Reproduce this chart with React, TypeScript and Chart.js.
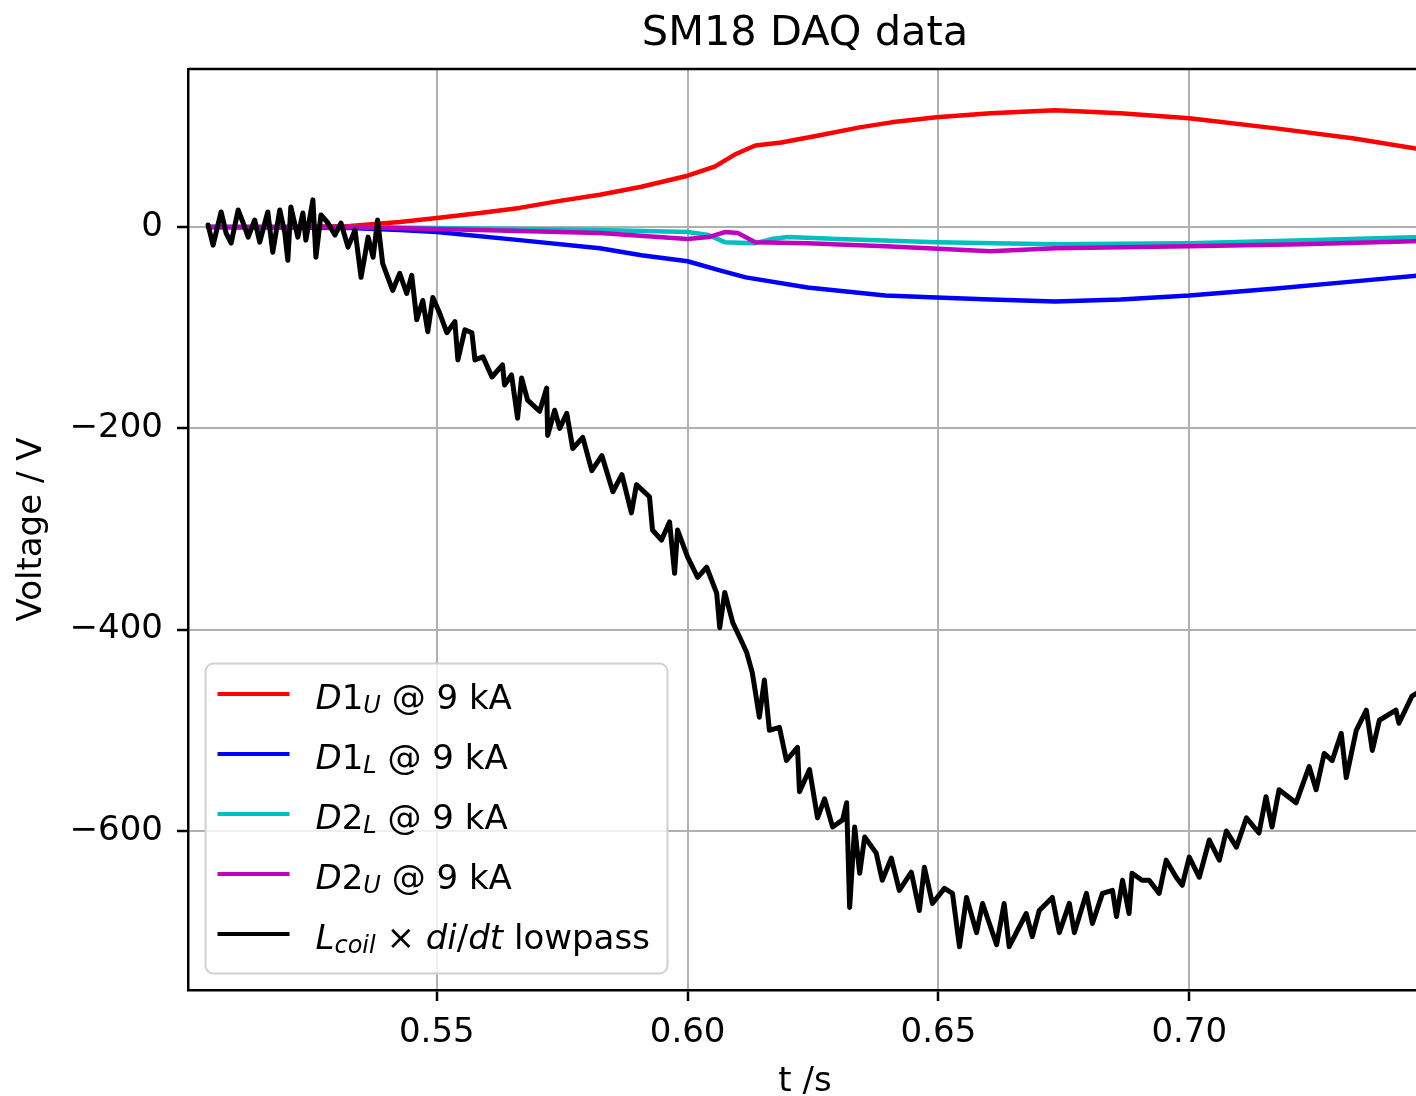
import React, { useEffect, useRef } from "react";
import { Chart, registerables } from "chart.js";

Chart.register(...registerables);

// ---------- text ----------
const CHART_TITLE = "SM18 DAQ data";
const X_LABEL = "t /s";
const Y_LABEL = "Voltage / V";

// ---------- axes ----------
const X_TICKS = [0.55, 0.6, 0.65, 0.7];
const Y_TICKS = [-600, -400, -200, 0];
const X_MIN = 0.5004;
const X_MAX = 0.7464;
const Y_MIN = -758;
const Y_MAX = 157;

// ---------- series: D1_U (red) ----------
const d1uT = [0.5044, 0.52, 0.5327, 0.5426, 0.55, 0.5586, 0.5665, 0.5745, 0.5825, 0.5908, 0.6, 0.6054, 0.6094, 0.6135, 0.6187, 0.6261, 0.6343, 0.6406, 0.6496, 0.6604, 0.6733, 0.6863, 0.7, 0.7173, 0.7329, 0.7464];
const d1uV = [0, 0, 1, 5, 9, 14, 19, 26, 32, 40, 51, 60, 72, 81, 84, 91, 99, 104, 109, 113, 116, 113, 108, 98, 88, 77];

// ---------- series: D1_L (blue) ----------
const d1lT = [0.5044, 0.5327, 0.5426, 0.55, 0.5665, 0.5825, 0.5908, 0.6, 0.6064, 0.6116, 0.6239, 0.6394, 0.6496, 0.6604, 0.6733, 0.6863, 0.7, 0.7173, 0.7329, 0.7464];
const d1lV = [0, -1, -3, -5, -13, -21, -28, -34, -43, -50, -60, -68, -70, -72, -74, -72, -68, -61, -54, -48];

// ---------- series: D2_L (cyan) ----------
const d2lT = [0.5044, 0.5327, 0.55, 0.5825, 0.6, 0.6042, 0.6074, 0.6135, 0.6167, 0.62, 0.63, 0.6496, 0.6733, 0.7, 0.725, 0.7464];
const d2lV = [0, 0, -1, -3, -5, -8, -15, -16, -12, -10, -12, -15, -17, -16, -13, -10];

// ---------- series: D2_U (magenta) ----------
const d2uT = [0.5044, 0.5327, 0.55, 0.5665, 0.5825, 0.6, 0.6042, 0.6074, 0.61, 0.6135, 0.6239, 0.6394, 0.6604, 0.6733, 0.7, 0.7225, 0.7464];
const d2uV = [0, 0, -2, -4, -6, -12, -10, -5, -6, -15, -16, -19, -24, -21, -19, -17, -14];

// ---------- series: L_coil x di/dt lowpass (black) ----------
const coilT = [
  0.5044, 0.5054, 0.507, 0.508, 0.509, 0.5104, 0.5114, 0.5124, 0.5137, 0.5147,
  0.5163, 0.5173, 0.5187, 0.5197, 0.5203, 0.5209, 0.5223, 0.5233, 0.5239, 0.5253,
  0.5259, 0.5269, 0.5283, 0.5297, 0.5309, 0.5323, 0.5337, 0.5349, 0.5363, 0.5373,
  0.5382, 0.5392, 0.5412, 0.5426, 0.544, 0.545, 0.546, 0.5472, 0.5482, 0.5492,
  0.5506, 0.552, 0.5536, 0.5542, 0.5556, 0.557, 0.5576, 0.5592, 0.561, 0.5631,
  0.5635, 0.5649, 0.5661, 0.5669, 0.5681, 0.5705, 0.5719, 0.5721, 0.5735, 0.5745,
  0.5759, 0.5771, 0.5791, 0.5809, 0.5829, 0.5851, 0.5869, 0.5888, 0.5898, 0.5924,
  0.593, 0.5948, 0.5964, 0.5974, 0.598, 0.6, 0.602, 0.6038, 0.6058, 0.6064,
  0.6074, 0.609, 0.6108,
  0.6118, 0.6129, 0.6143, 0.6153, 0.6163, 0.6183, 0.6197, 0.6219, 0.6223, 0.6243,
  0.6259, 0.6273, 0.6289, 0.6309, 0.6317, 0.6323, 0.6333, 0.6343, 0.6353, 0.6376,
  0.6388, 0.6406, 0.6422, 0.6446, 0.6462, 0.6472, 0.6488, 0.6512, 0.6528, 0.6542,
  0.6556, 0.6576, 0.6588, 0.6616, 0.6631, 0.6641, 0.6675, 0.6687, 0.6701, 0.6727,
  0.6741, 0.6761, 0.6771, 0.6795, 0.6807, 0.6827, 0.6847, 0.6855, 0.6867, 0.688,
  0.6886, 0.6906, 0.692, 0.694, 0.6954, 0.6974, 0.6986, 0.7, 0.702, 0.704,
  0.706, 0.7074, 0.7094, 0.7114, 0.7139, 0.7153, 0.7165, 0.7179, 0.7213, 0.7239,
  0.7253, 0.7269, 0.7285, 0.7303, 0.7313, 0.7333, 0.7353, 0.7365, 0.7379, 0.7412,
  0.7418, 0.7444, 0.7464,
];
const coilV = [
  2, -18, 15, -6, -16, 17, 4, -10, 7, -15,
  15, -25, 17, -6, -33, 20, -10, 14, -13, 27,
  -30, 12, 4, -8, 4, -20, -3, -50, -10, -30,
  7, -36, -63, -46, -66, -48, -92, -73, -104, -70,
  -86, -105, -94, -132, -102, -105, -132, -129, -149, -137,
  -157, -147, -190, -150, -172, -183, -160, -207, -182, -200,
  -185, -220, -209, -242, -227, -263, -246, -284, -256, -268,
  -301, -311, -293, -344, -301, -328, -348, -338, -364, -398,
  -363, -393, -412,
  -423, -443, -487, -450, -500, -497, -530, -517, -561, -539,
  -587, -568, -596, -589, -572, -676, -596, -642, -606, -622,
  -649, -627, -659, -641, -679, -636, -672, -657, -662, -715,
  -666, -701, -672, -713, -672, -715, -682, -705, -679, -666,
  -701, -672, -701, -662, -692, -662, -659, -685, -649, -682,
  -642, -649, -649, -662, -629, -646, -654, -626, -646, -609,
  -629, -600, -616, -587, -602, -566, -596, -559, -572, -536,
  -559, -523, -530, -503, -547, -500, -480, -520, -490, -480,
  -493, -466, -460,
];

// ---------- legend ----------
const SERIES_COLORS = ["#ff0000", "#0000ff", "#00bfbf", "#bf00bf", "#000000"];
type Seg = { t: string; i?: boolean; s?: boolean };
const LEGEND_LABELS: Seg[][] = [
  [{ t: "D", i: true }, { t: "1" }, { t: "U", i: true, s: true }, { t: " @ 9 kA" }],
  [{ t: "D", i: true }, { t: "1" }, { t: "L", i: true, s: true }, { t: " @ 9 kA" }],
  [{ t: "D", i: true }, { t: "2" }, { t: "L", i: true, s: true }, { t: " @ 9 kA" }],
  [{ t: "D", i: true }, { t: "2" }, { t: "U", i: true, s: true }, { t: " @ 9 kA" }],
  [
    { t: "L", i: true },
    { t: "coil", i: true, s: true },
    { t: " \u00d7 " },
    { t: "di", i: true },
    { t: "/" },
    { t: "dt", i: true },
    { t: " lowpass" },
  ],
];

const FONT = '"DejaVu Sans", "Liberation Sans", sans-serif';

const zip = (t: number[], v: number[]) => t.map((x, k) => ({ x, y: v[k] }));

const framePlugin = {
  id: "mplFrame",
  afterDraw(chart: any) {
    const { ctx, chartArea: a } = chart;
    ctx.save();
    // top and right spines
    ctx.strokeStyle = "#000";
    ctx.lineWidth = 2.5;
    ctx.beginPath();
    ctx.moveTo(a.left, a.top);
    ctx.lineTo(a.right, a.top);
    ctx.lineTo(a.right, a.bottom);
    ctx.stroke();

    // title
    ctx.fillStyle = "#000";
    ctx.font = `41.5px ${FONT}`;
    ctx.textAlign = "center";
    ctx.textBaseline = "alphabetic";
    ctx.fillText(CHART_TITLE, (a.left + a.right) / 2, a.top - 24);

    // legend box
    const bx = a.left + 17.5;
    const by = a.bottom - 326.5;
    const bw = 462;
    const bh = 310;
    ctx.beginPath();
    (ctx as any).roundRect(bx, by, bw, bh, 8);
    ctx.fillStyle = "rgba(255,255,255,0.8)";
    ctx.fill();
    ctx.strokeStyle = "#d0d0d0";
    ctx.lineWidth = 2;
    ctx.stroke();

    ctx.textAlign = "left";
    LEGEND_LABELS.forEach((segs, r) => {
      const hy = by + 30.5 + r * 60;
      ctx.strokeStyle = SERIES_COLORS[r];
      ctx.lineWidth = 4;
      ctx.beginPath();
      ctx.moveTo(bx + 12, hy);
      ctx.lineTo(bx + 84, hy);
      ctx.stroke();

      let x = bx + 110;
      const base = hy + 14.5;
      ctx.fillStyle = "#000";
      segs.forEach((sg) => {
        const size = sg.s ? 24 : 34;
        ctx.font = `${sg.i ? "italic " : ""}${size}px ${FONT}`;
        ctx.fillText(sg.t, x, base + (sg.s ? 4 : 0));
        x += ctx.measureText(sg.t).width;
      });
    });
    ctx.restore();
  },
};

export default function App() {
  const ref = useRef<HTMLCanvasElement | null>(null);

  useEffect(() => {
    const canvas = ref.current;
    if (!canvas) return;
    const mk = (label: string, t: number[], v: number[], color: string, order: number, w: number) => ({
      label,
      data: zip(t, v),
      borderColor: color,
      backgroundColor: color,
      borderWidth: w,
      pointRadius: 0,
      showLine: true,
      tension: 0,
      borderJoinStyle: "round" as const,
      borderCapStyle: "round" as const,
      order,
    });

    const chart = new Chart(canvas, {
      type: "scatter",
      data: {
        datasets: [
          mk("D1_U @ 9 kA", d1uT, d1uV, SERIES_COLORS[0], 4, 4.5),
          mk("D1_L @ 9 kA", d1lT, d1lV, SERIES_COLORS[1], 3, 4.5),
          mk("D2_L @ 9 kA", d2lT, d2lV, SERIES_COLORS[2], 2, 4.5),
          mk("D2_U @ 9 kA", d2uT, d2uV, SERIES_COLORS[3], 1, 4.5),
          mk("L_coil x di/dt lowpass", coilT, coilV, SERIES_COLORS[4], 0, 5),
        ],
      },
      options: {
        animation: false,
        responsive: false,
        maintainAspectRatio: false,
        devicePixelRatio: 1,
        layout: { padding: { top: 69, left: 0, right: 188, bottom: 0 } },
        plugins: {
          legend: { display: false },
          tooltip: { enabled: false },
          title: { display: false },
        },
        scales: {
          x: {
            type: "linear",
            position: "bottom",
            min: X_MIN,
            max: X_MAX,
            afterBuildTicks: (s: any) => {
              s.ticks = X_TICKS.map((value) => ({ value }));
            },
            afterFit: (s: any) => {
              s.height = 106;
            },
            ticks: {
              color: "#000",
              font: { family: FONT, size: 34 },
              padding: 12,
              maxRotation: 0,
              autoSkip: false,
              callback: (v: any) => Number(v).toFixed(2),
            },
            grid: {
              color: "#b0b0b0",
              lineWidth: 2,
              drawTicks: true,
              tickLength: 11,
              tickColor: "#000",
              tickWidth: 2.5,
            },
            border: { display: true, color: "#000", width: 2.5 },
            title: {
              display: true,
              text: X_LABEL,
              color: "#000",
              font: { family: FONT, size: 34, lineHeight: 1.2 },
              padding: { top: 0, bottom: -7 },
            },
          },
          y: {
            type: "linear",
            min: Y_MIN,
            max: Y_MAX,
            afterBuildTicks: (s: any) => {
              s.ticks = Y_TICKS.map((value) => ({ value }));
            },
            afterFit: (s: any) => {
              s.width = 188;
            },
            ticks: {
              color: "#000",
              font: { family: FONT, size: 34 },
              padding: 14,
              autoSkip: false,
              callback: (v: any) => (Number(v) < 0 ? "\u2212" + Math.abs(Number(v)) : String(v)),
            },
            grid: {
              color: "#b0b0b0",
              lineWidth: 2,
              drawTicks: true,
              tickLength: 11,
              tickColor: "#000",
              tickWidth: 2.5,
            },
            border: { display: true, color: "#000", width: 2.5 },
            title: {
              display: true,
              text: Y_LABEL,
              color: "#000",
              font: { family: FONT, size: 34, lineHeight: 1.2 },
              padding: { top: 12, bottom: 0 },
            },
          },
        },
      },
      plugins: [framePlugin],
    });
    return () => chart.destroy();
  }, []);

  return (
    <div
      style={{
        position: "fixed",
        left: 0,
        top: 0,
        width: 1416,
        height: 1096,
        overflow: "hidden",
        background: "#fff",
      }}
    >
      <canvas ref={ref} width={1610} height={1096} style={{ display: "block", width: 1610, height: 1096 }} />
    </div>
  );
}
